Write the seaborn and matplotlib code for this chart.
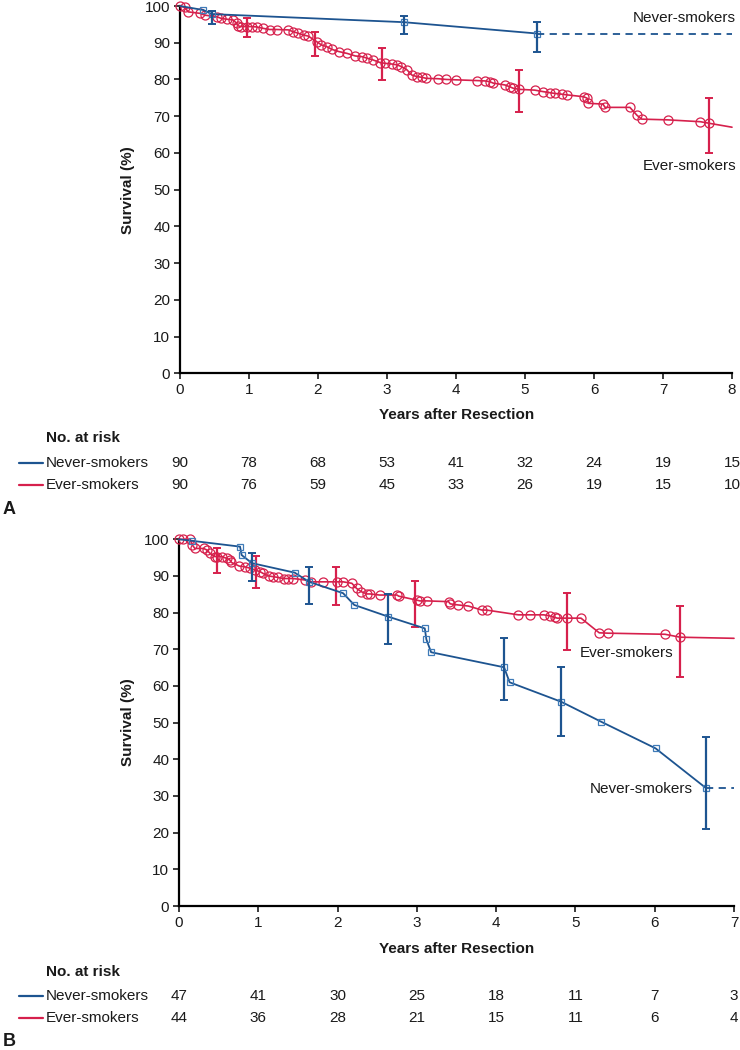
import matplotlib
matplotlib.use("Agg")
import matplotlib.pyplot as plt
import matplotlib.transforms as mtrans
import numpy as np
import seaborn as sns

# ---------------- data ----------------
# Panel A
a_ever_t = [0, 0.07, 0.12, 0.29, 0.36, 0.53, 0.60, 0.68, 0.77, 0.82, 0.84, 0.89, 0.97, 1.04, 1.11,
            1.21, 1.30, 1.40, 1.57, 1.64, 1.71, 1.79, 1.86, 1.98, 2.05, 2.13, 2.20, 2.30, 2.42, 2.54,
            2.64, 2.71, 2.80, 2.90, 2.97, 3.07, 3.14, 3.21, 3.29, 3.36, 3.43, 3.50, 3.57, 3.74, 3.86,
            4.00, 4.30, 4.42, 4.49, 4.54, 4.71, 4.78, 4.83, 4.92, 5.14, 5.26, 5.36, 5.43, 5.53, 5.61,
            5.85, 5.90, 5.92, 6.13, 6.16, 6.52, 6.62, 6.69, 7.07, 7.54, 7.66, 8.0]
a_ever_s = [100, 99.6, 98.4, 98.0, 97.5, 97.1, 96.6, 96.4, 96.2, 95.3, 94.6, 94.4, 94.4, 94.4, 94.3,
            93.9, 93.6, 93.6, 93.5, 93.0, 92.6, 92.1, 91.8, 90.3, 89.4, 88.9, 88.2, 87.6, 87.1, 86.4,
            86.2, 85.8, 85.3, 84.6, 84.4, 84.2, 84.0, 83.5, 82.6, 81.2, 80.8, 80.6, 80.3, 80.2, 80.0,
            79.9, 79.7, 79.6, 79.4, 79.0, 78.5, 78.0, 77.6, 77.3, 77.1, 76.7, 76.4, 76.2, 76.0, 75.8,
            75.3, 74.9, 73.5, 73.3, 72.4, 72.4, 70.3, 69.2, 69.0, 68.5, 68.1, 67.0]
a_ever_err_t = [0.97, 1.95, 2.93, 4.92, 7.66]
a_ever_err_lo = [91.5, 86.4, 79.9, 71.2, 59.9]
a_ever_err_hi = [96.6, 93.0, 88.5, 82.6, 75.0]

a_never_t = [0, 0.34, 0.46, 3.24, 5.18]
a_never_s = [100, 98.9, 97.8, 95.6, 92.5]
a_never_err_t = [0.46, 3.24, 5.18]
a_never_err_lo = [95.1, 92.4, 87.4]
a_never_err_hi = [98.7, 97.4, 95.6]

a_years = [0, 1, 2, 3, 4, 5, 6, 7, 8]
a_risk_never = [90, 78, 68, 53, 41, 32, 24, 19, 15]
a_risk_ever = [90, 76, 59, 45, 33, 26, 19, 15, 10]

# Panel B
b_ever_t = [0, 0.05, 0.14, 0.17, 0.20, 0.31, 0.35, 0.39, 0.45, 0.48, 0.54, 0.60, 0.64, 0.66, 0.76,
            0.83, 0.90, 0.96, 1.02, 1.06, 1.13, 1.19, 1.25, 1.32, 1.38, 1.44, 1.59, 1.67, 1.82, 1.99,
            2.07, 2.18, 2.24, 2.30, 2.37, 2.41, 2.53, 2.75, 2.77, 3.00, 3.04, 3.13, 3.40, 3.42, 3.52,
            3.65, 3.82, 3.88, 4.28, 4.43, 4.60, 4.68, 4.74, 4.77, 4.89, 5.07, 5.30, 5.41, 6.13, 6.32,
            7.0]
b_ever_s = [100, 100, 100, 98.4, 97.5, 97.5, 97.1, 96.2, 95.3, 95.3, 95.3, 94.8, 94.4, 93.7, 92.7,
            92.5, 92.1, 91.6, 91.2, 90.7, 90.0, 89.8, 89.6, 89.3, 89.3, 89.3, 88.9, 88.4, 88.4, 88.4,
            88.4, 88.0, 86.6, 85.7, 85.1, 85.1, 84.8, 84.8, 84.5, 83.4, 83.2, 83.2, 83.0, 82.4, 82.1,
            81.8, 80.7, 80.7, 79.4, 79.4, 79.4, 79.1, 78.7, 78.5, 78.5, 78.5, 74.5, 74.4, 74.1, 73.3,
            73.0]
b_ever_err_t = [0.48, 0.97, 1.98, 2.98, 4.89, 6.32]
b_ever_err_lo = [90.9, 86.6, 82.1, 76.0, 69.8, 62.4]
b_ever_err_hi = [97.5, 95.4, 92.5, 88.7, 85.3, 81.9]

b_never_t = [0, 0.16, 0.77, 0.79, 0.92, 1.46, 1.64, 2.07, 2.21, 2.64, 3.10, 3.12, 3.18, 4.10, 4.17,
             4.82, 5.32, 6.01, 6.65]
b_never_s = [100, 99.6, 98.0, 95.7, 93.5, 90.9, 88.4, 85.3, 82.1, 78.9, 75.7, 72.7, 69.2, 65.1, 61.0,
             55.7, 50.3, 43.0, 32.1]
b_never_err_t = [0.92, 1.64, 2.64, 4.10, 4.82, 6.65]
b_never_err_lo = [88.6, 82.4, 71.4, 56.2, 46.4, 21.0]
b_never_err_hi = [96.3, 92.5, 85.1, 73.0, 65.1, 46.0]

b_years = [0, 1, 2, 3, 4, 5, 6, 7]
b_risk_never = [47, 41, 30, 25, 18, 11, 7, 3]
b_risk_ever = [44, 36, 28, 21, 15, 11, 6, 4]

group_names = ["Never-smokers", "Ever-smokers"]

# ---------------- style ----------------
sns.set_theme(style="ticks")
plt.rcParams["font.family"] = ["Liberation Sans", "DejaVu Sans"]
BLUE = "#1d5490"
BLUE_M = "#3f7bb8"
RED = "#d6204c"
FS = 11

W, H = 740, 1050
fig = plt.figure(figsize=(W / 100, H / 100), dpi=100)


def fx(px):
    return px / W


def fy(py):
    return 1 - py / H


def draw_panel(ax, xmax, ever_t, ever_s, e_et, e_lo, e_hi,
               never_t, never_s, n_et, n_lo, n_hi, last_marker_ever):
    # ever-smokers
    n = len(ever_s)
    mev = list(range(n)) if last_marker_ever else list(range(n - 1))
    sns.lineplot(x=ever_t, y=ever_s, ax=ax, color=RED, lw=1.2, estimator=None, sort=False,
                 marker="o", markersize=6.5, markerfacecolor="none", markeredgecolor=RED,
                 markeredgewidth=0.9, markevery=mev, clip_on=False, zorder=3)
    lo = np.array(e_lo); hi = np.array(e_hi)
    ax.errorbar(e_et, (lo + hi) / 2, yerr=(hi - lo) / 2, fmt="none", ecolor=RED,
                elinewidth=1.6, capsize=3, capthick=1.4, zorder=4, clip_on=False)
    # never-smokers
    sns.lineplot(x=never_t, y=never_s, ax=ax, color=BLUE, lw=1.3, estimator=None, sort=False,
                 marker="s", markersize=5, markerfacecolor="none", markeredgecolor=BLUE_M,
                 markeredgewidth=0.9, markevery=list(range(1, len(never_s))),
                 clip_on=False, zorder=5)
    sns.lineplot(x=[never_t[-1], xmax], y=[never_s[-1], never_s[-1]], ax=ax, color=BLUE,
                 lw=1.3, linestyle=(0, (4, 3)), estimator=None, sort=False, zorder=5)
    lo = np.array(n_lo); hi = np.array(n_hi)
    ax.errorbar(n_et, (lo + hi) / 2, yerr=(hi - lo) / 2, fmt="none", ecolor=BLUE,
                elinewidth=1.6, capsize=3, capthick=1.4, zorder=6, clip_on=False)

    ax.set_xlim(0, xmax)
    ax.set_ylim(0, 100)
    ax.set_xticks(range(0, xmax + 1))
    ax.set_yticks(range(0, 101, 10))
    ax.set_xlabel("")
    ax.set_ylabel("")
    sns.despine(ax=ax)
    for s in ("left", "bottom"):
        ax.spines[s].set_linewidth(1.6)
        ax.spines[s].set_color("black")
    ax.tick_params(direction="out", length=4, width=1.2, labelsize=FS, colors="#1a1a1a",
                   pad=3)
    if ax.get_legend():
        ax.get_legend().remove()


def draw_table(ax, years, r_never, r_ever, y_xlab, y_title, y_r1, y_r2, y_letter, letter,
               ycenter):
    fig.text(fx(457), fy(y_xlab), "Years after Resection", ha="center", va="center",
             fontsize=FS, fontweight="bold", color="#1a1a1a")
    fig.text(fx(128), fy(ycenter), "Survival (%)", ha="center", va="center", rotation=90,
             fontsize=FS, fontweight="bold", color="#1a1a1a")
    fig.text(fx(46), fy(y_title), "No. at risk", ha="left", va="center",
             fontsize=FS, fontweight="bold", color="#1a1a1a")
    tr = mtrans.blended_transform_factory(ax.transData, fig.transFigure)
    for name, risks, yy, col in ((group_names[0], r_never, y_r1, BLUE),
                                 (group_names[1], r_ever, y_r2, RED)):
        fig.add_artist(plt.Line2D([fx(19), fx(42.5)], [fy(yy), fy(yy)], color=col, lw=1.6))
        fig.text(fx(46), fy(yy), name, ha="left", va="center", fontsize=FS, color="#1a1a1a")
        for yr, r in zip(years, risks):
            ax.text(yr, fy(yy), str(r), transform=tr, ha="center", va="center",
                    fontsize=FS, color="#1a1a1a")
    fig.text(fx(3), fy(y_letter), letter, ha="left", va="center", fontsize=13,
             fontweight="bold", color="#1a1a1a")


axA = fig.add_axes([fx(180), fy(373.3), 552 / W, 367.3 / H])
draw_panel(axA, 8, a_ever_t, a_ever_s, a_ever_err_t, a_ever_err_lo, a_ever_err_hi,
           a_never_t, a_never_s, a_never_err_t, a_never_err_lo, a_never_err_hi, False)
axA.text(8.05, 96.8, "Never-smokers", ha="right", va="center", fontsize=FS, color="#1a1a1a")
axA.text(8.07, 56.5, "Ever-smokers", ha="right", va="center", fontsize=FS, color="#1a1a1a")
draw_table(axA, a_years, a_risk_never, a_risk_ever, 415, 438.5, 463, 485, 510, "A", 190)

axB = fig.add_axes([fx(179), fy(906), 555 / W, 366.7 / H])
draw_panel(axB, 7, b_ever_t, b_ever_s, b_ever_err_t, b_ever_err_lo, b_ever_err_hi,
           b_never_t, b_never_s, b_never_err_t, b_never_err_lo, b_never_err_hi, False)
axB.text(6.23, 68.9, "Ever-smokers", ha="right", va="center", fontsize=FS, color="#1a1a1a")
axB.text(6.48, 32.0, "Never-smokers", ha="right", va="center", fontsize=FS, color="#1a1a1a")
draw_table(axB, b_years, b_risk_never, b_risk_ever, 949, 972.5, 996, 1018, 1041, "B", 722)

fig.savefig("out.png", dpi=100, facecolor="white")
